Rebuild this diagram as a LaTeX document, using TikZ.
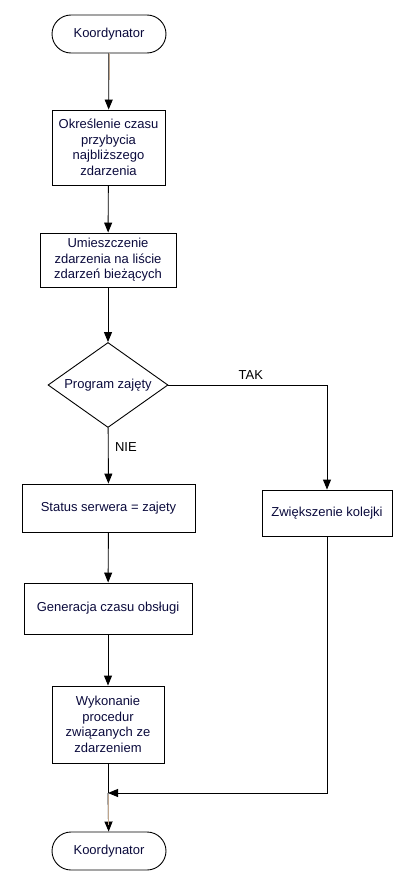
\documentclass[tikz,border=0pt]{standalone}
\usepackage{fontspec}
\setmainfont{Liberation Sans}
\usetikzlibrary{shapes.geometric,arrows.meta,positioning}
\definecolor{tekst}{RGB}{10,10,60}
\definecolor{brazowy}{RGB}{190,165,140}

\begin{document}
\begin{tikzpicture}[x=1pt,y=-1pt,line width=0.9pt,
    font=\fontsize{13}{15.5}\selectfont,
    blok/.style={draw,rectangle,align=center,text=tekst,inner sep=2pt},
    term/.style={draw,rectangle,rounded corners=19pt,minimum width=114pt,minimum height=38pt,text=tekst},
    decyzja/.style={draw,diamond,shape aspect=1.41,inner sep=0pt,minimum width=120pt,minimum height=85pt,text=tekst},
    strz/.style={-{Triangle[width=8pt,length=10pt]}}]
    \useasboundingbox (0,0) rectangle (405,883);
    % lewa kolumna
    \node[term] (start) at (109,34) {Koordynator};
    \node[blok,minimum width=113pt,minimum height=75pt] (czas) at (108.5,147.5)
      {Określenie czasu\\przybycia\\najbliższego\\zdarzenia};
    \node[blok,minimum width=136pt,minimum height=54pt] (lista) at (108,260)
      {Umieszczenie\\zdarzenia na liście\\zdarzeń bieżących};
    \node[decyzja] (zajety) at (108,385) {Program zajęty};
    \node[blok,minimum width=173pt,minimum height=48pt] (status) at (108.5,508)
      {Status serwera = zajety};
    \node[blok,minimum width=168pt,minimum height=51pt] (obsluga) at (108,608.5)
      {Generacja czasu obsługi};
    \node[blok,minimum width=112pt,minimum height=77pt] (procedury) at (108,724.5)
      {Wykonanie\\procedur\\związanych ze\\zdarzeniem};
    \node[term] (koniec) at (109,851) {Koordynator};
    % prawa kolumna
    \node[blok,minimum width=130pt,minimum height=46pt] (kolejka) at (327,513)
      {Zwiększenie kolejki};
    \coordinate (laczenie) at (108,793);
    % polaczenia
    \draw[strz] (start) -- (czas);
    \draw[brazowy] (start.south) -- ++(0,27);
    \draw[strz] (czas) -- (lista);
    \draw[strz] (lista) -- (zajety);
    \draw[strz] (zajety) -- node[pos=0.35,right=3pt,text=black]{NIE} (status);
    \draw[strz] (zajety.east) -| node[pos=0.26,above=2pt,text=black]{TAK} (kolejka.north);
    \draw[strz] (status) -- (obsluga);
    \draw[strz] (obsluga) -- (procedury);
    \draw (procedury) -- (laczenie);
    \draw[strz] (kolejka.south) |- (laczenie);
    \draw[strz] (laczenie) -- (koniec);
    \draw[brazowy] (laczenie) ++(0,2) -- ++(0,30);
  \end{tikzpicture}
\end{document}
